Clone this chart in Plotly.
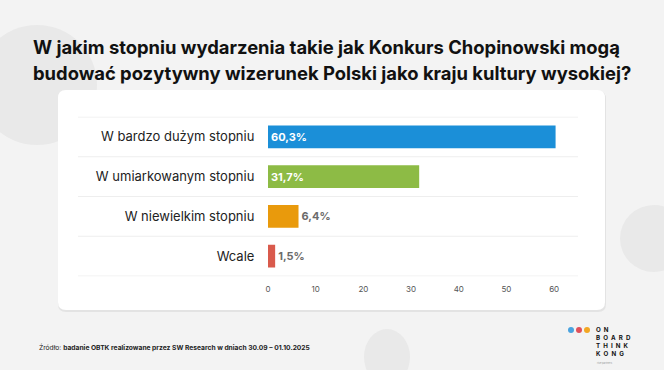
import plotly.graph_objects as go

W, H = 664, 370

categories = ["W bardzo dużym stopniu", "W umiarkowanym stopniu", "W niewielkim stopniu", "Wcale"]
values = [60.3, 31.7, 6.4, 1.5]
bar_colors = ["#1b8fd8", "#8dbb45", "#e99a0c", "#d95a4c"]
text_positions = ["inside", "inside", "outside", "outside"]
tick_vals = [0, 10, 20, 30, 40, 50, 60]

title_lines = [
    "W jakim stopniu wydarzenia takie jak Konkurs Chopinowski mogą",
    "budować pozytywny wizerunek Polski jako kraju kultury wysokiej?",
]
source_label = "Źródło:"
source_text = "badanie OBTK realizowane przez SW Research w dniach 30.09 – 01.10.2025"
logo_lines = ["ON", "BOARD", "THINK", "KONG"]
logo_dots = ["#4aa3df", "#e0505a", "#f2a623"]

FONT = "Inter"


def px(x):
    return x / W


def py(y):
    return 1 - y / H


labels = [f"{v:.1f}".replace(".", ",") + "%" for v in values]

fig = go.Figure(
    go.Bar(
        x=values,
        y=categories,
        orientation="h",
        marker=dict(color=bar_colors, line=dict(width=0)),
        text=labels,
        textposition=text_positions,
        insidetextanchor="start",
        insidetextfont=dict(color="white", size=11, family=FONT, weight="bold"),
        outsidetextfont=dict(color="#6b6b6b", size=11, family=FONT, weight="bold"),
        cliponaxis=False,
        hoverinfo="skip",
    )
)

shapes = []
# background decorative circles
shapes.append(dict(type="circle", xref="paper", yref="paper", x0=px(-23), x1=px(97), y0=py(145), y1=py(25),
                   fillcolor="#e9e9e9", line=dict(width=0), layer="below"))
shapes.append(dict(type="circle", xref="paper", yref="paper", x0=px(620), x1=px(688), y0=py(272), y1=py(205),
                   fillcolor="#e9e9e9", line=dict(width=0), layer="below"))
shapes.append(dict(type="circle", xref="paper", yref="paper", x0=px(364), x1=px(410), y0=py(385), y1=py(329),
                   fillcolor="#e9e9e9", line=dict(width=0), layer="below"))


def rrect(x0, y0, x1, y1, r):
    rx, ry = r / W, r / H
    X0, X1 = px(x0), px(x1)
    Y0, Y1 = py(y0), py(y1)  # Y0 top, Y1 bottom
    return (f"M{X0+rx},{Y0} L{X1-rx},{Y0} Q{X1},{Y0} {X1},{Y0-ry} "
            f"L{X1},{Y1+ry} Q{X1},{Y1} {X1-rx},{Y1} L{X0+rx},{Y1} "
            f"Q{X0},{Y1} {X0},{Y1+ry} L{X0},{Y0-ry} Q{X0},{Y0} {X0+rx},{Y0} Z")


# card shadow + card
shapes.append(dict(type="path", xref="paper", yref="paper", path=rrect(58, 91, 606, 312, 8),
                   fillcolor="#e3e3e3", line=dict(width=0), layer="below"))
shapes.append(dict(type="path", xref="paper", yref="paper", path=rrect(58, 90, 605, 310, 8),
                   fillcolor="#ffffff", line=dict(width=0), layer="below"))

# row separators at category boundaries
for i in range(len(categories) + 1):
    shapes.append(dict(type="line", xref="paper", yref="y", x0=px(78), x1=px(578), y0=i - 0.5, y1=i - 0.5,
                       line=dict(color="#eeeeee", width=1), layer="below"))

annotations = []
for i, line in enumerate(title_lines):
    annotations.append(dict(text=f"<b>{line}</b>", xref="paper", yref="paper", x=px(31), y=py(47 + 26 * i),
                            xanchor="left", yanchor="middle", showarrow=False,
                            font=dict(family=FONT, size=18.4, color="#111111")))
annotations.append(dict(text=f"{source_label} <b>{source_text}</b>", xref="paper", yref="paper",
                        x=px(37), y=py(347), xanchor="left", yanchor="middle", showarrow=False,
                        font=dict(family=FONT, size=6.7, color="#222222")))
# logo
for i, c in enumerate(logo_dots):
    shapes.append(dict(type="circle", xref="paper", yref="paper",
                       x0=px(568 + 8 * i), x1=px(574 + 8 * i), y0=py(333), y1=py(327),
                       fillcolor=c, line=dict(width=0)))
logo_text = "<br>".join(f"<b>{'&#8194;'.join(t)}</b>" for t in logo_lines)
annotations.append(dict(text=logo_text, xref="paper", yref="paper", x=px(595), y=py(325),
                        xanchor="left", yanchor="top", align="left", showarrow=False,
                        font=dict(family=FONT, size=6.2, color="#111111"), borderpad=0))
annotations.append(dict(text="rise partners", xref="paper", yref="paper", x=px(596), y=py(362.5),
                        xanchor="left", yanchor="middle", showarrow=False,
                        font=dict(family=FONT, size=2.5, color="#999999"), borderpad=0))

fig.update_layout(
    width=W, height=H,
    margin=dict(l=0, r=0, t=0, b=0),
    paper_bgcolor="#f3f3f3",
    plot_bgcolor="rgba(0,0,0,0)",
    showlegend=False,
    bargap=0.43,
    shapes=shapes,
    annotations=annotations,
    font=dict(family=FONT),
    xaxis=dict(domain=[px(268), px(578)], range=[0, 65], tickvals=tick_vals,
               showgrid=False, zeroline=False, showline=False,
               ticks="outside", ticklen=5, tickcolor="rgba(0,0,0,0)",
               tickfont=dict(size=8, color="#555555", family=FONT), automargin=False, fixedrange=True),
    yaxis=dict(domain=[py(276.5), py(116.5)], autorange="reversed", showgrid=False, zeroline=False,
               showline=False, ticks="outside", ticklen=10, tickcolor="rgba(0,0,0,0)",
               tickfont=dict(size=13, color="#222222", family=FONT), automargin=False, fixedrange=True),
)

fig.write_html("out.html", config={"displayModeBar": False},
               post_script="document.body.style.margin='0';document.body.style.background='#f3f3f3';")
